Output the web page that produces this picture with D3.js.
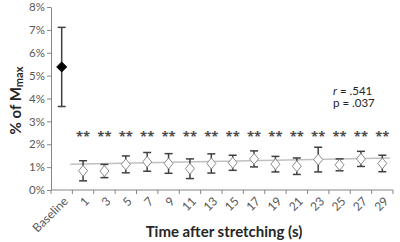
<!DOCTYPE html>
<html>
<head>
<meta charset="utf-8">
<script src="https://cdn.jsdelivr.net/npm/d3@7"></script>
<style>
  html, body { margin: 0; padding: 0; background: #fff; }
  #chart { width: 400px; height: 242px; }
  text { font-family: Lato, "Open Sans", sans-serif; }
</style>
</head>
<body>
<div id="chart"></div>
<script>
const categories = ["Baseline", "1", "3", "5", "7", "9", "11", "13", "15", "17", "19", "21", "23", "25", "27", "29"];
const means = [5.38, 0.84, 0.83, 1.12, 1.23, 1.16, 0.93, 1.16, 1.19, 1.36, 1.13, 1.04, 1.33, 1.10, 1.36, 1.16];
const errors = [1.73, 0.44, 0.29, 0.37, 0.41, 0.43, 0.43, 0.42, 0.33, 0.35, 0.34, 0.36, 0.54, 0.26, 0.33, 0.36];
const significant = [false, true, true, true, true, true, true, true, true, true, true, true, true, true, true, true];
const yTicks = [0, 1, 2, 3, 4, 5, 6, 7, 8];
// trendline ends (category position, value in %)
const trendPos = [0.9, 15.85];
const trendVal = [1.13, 1.40];
const statsText = [".541", ".037"];

(function() {
  const width = 400, height = 242;
  const margin = { top: 7, right: 7, bottom: 52, left: 51 };

  const svg = d3.select("#chart").append("svg")
    .attr("width", width)
    .attr("height", height);

  const x = d3.scaleBand()
    .domain(categories)
    .range([margin.left, width - margin.right])
    .padding(0);

  const y = d3.scaleLinear()
    .domain([0, 8])
    .range([height - margin.bottom, margin.top]);

  const xPos = p => x.range()[0] + p * x.step();
  const axisColor = "#868686";
  const labelColor = "#595959";

  // y axis
  const yAxis = svg.append("g")
    .attr("transform", `translate(${margin.left},0)`)
    .call(d3.axisLeft(y).tickValues(yTicks).tickSize(4).tickSizeOuter(0).tickFormat(d => d + "%"));
  yAxis.select(".domain").attr("stroke", axisColor);
  yAxis.selectAll(".tick line").attr("stroke", axisColor);
  yAxis.selectAll(".tick text")
    .attr("fill", labelColor)
    .style("font-size", "11.5px")
    .attr("x", -6);

  // x axis: ticks on category boundaries
  const xg = svg.append("g")
    .attr("transform", `translate(0,${y(0)})`);
  xg.append("line")
    .attr("x1", x.range()[0]).attr("x2", x.range()[1])
    .attr("stroke", axisColor);
  xg.selectAll(".bt")
    .data(d3.range(categories.length + 1))
    .enter().append("line")
    .attr("x1", d => xPos(d)).attr("x2", d => xPos(d))
    .attr("y1", 0).attr("y2", 4)
    .attr("stroke", axisColor);
  xg.selectAll(".cl")
    .data(categories)
    .enter().append("text")
    .attr("transform", d => `translate(${x(d) + x.bandwidth() / 2 + 4},${9}) rotate(-45)`)
    .attr("text-anchor", "end")
    .attr("dy", "0.35em")
    .attr("fill", labelColor)
    .style("font-size", "12px")
    .text(d => d);

  // trendline
  svg.append("line")
    .attr("x1", xPos(trendPos[0])).attr("y1", y(trendVal[0]))
    .attr("x2", xPos(trendPos[1])).attr("y2", y(trendVal[1]))
    .attr("stroke", "#c0c0c0")
    .attr("stroke-width", 1.5);

  const pts = categories.map((c, i) => ({ c, m: means[i], e: errors[i], sig: significant[i], i }));
  const cx = d => x(d.c) + x.bandwidth() / 2;

  // error bars
  const eb = svg.selectAll(".eb").data(pts).enter().append("g")
    .attr("stroke", "#404040")
    .attr("stroke-width", 1.5);
  eb.append("line")
    .attr("x1", cx).attr("x2", cx)
    .attr("y1", d => y(d.m + d.e)).attr("y2", d => y(d.m - d.e));
  eb.append("line")
    .attr("x1", d => cx(d) - 4).attr("x2", d => cx(d) + 4)
    .attr("y1", d => y(d.m + d.e)).attr("y2", d => y(d.m + d.e));
  eb.append("line")
    .attr("x1", d => cx(d) - 4).attr("x2", d => cx(d) + 4)
    .attr("y1", d => y(d.m - d.e)).attr("y2", d => y(d.m - d.e));

  // diamonds
  svg.selectAll(".pt").data(pts).enter().append("path")
    .attr("d", d => {
      const w = d.i === 0 ? 5 : 4.5, h = d.i === 0 ? 5 : 5.5;
      return `M0,${-h}L${w},0L0,${h}L${-w},0Z`;
    })
    .attr("transform", d => `translate(${cx(d)},${y(d.m)})`)
    .attr("fill", d => d.i === 0 ? "#000" : "#fff")
    .attr("stroke", d => d.i === 0 ? "#000" : "#8c8c8c")
    .attr("stroke-width", 1);

  // significance asterisks
  svg.selectAll(".sig").data(pts.filter(d => d.sig)).enter().append("text")
    .attr("x", cx)
    .attr("y", 141)
    .attr("text-anchor", "middle")
    .attr("fill", "#4a4a4a")
    .style("font-family", "'Open Sans', sans-serif")
    .style("font-size", "13px")
    .style("font-weight", "bold")
    .text("**");

  // stats text
  const st = svg.append("text")
    .attr("x", 333).attr("y", 95)
    .attr("fill", "#262626")
    .style("font-size", "11.5px");
  st.append("tspan").style("font-style", "italic").text("r");
  st.append("tspan").text(" = " + statsText[0]);
  svg.append("text")
    .attr("x", 333).attr("y", 107)
    .attr("fill", "#262626")
    .style("font-size", "11.5px")
    .text("p = " + statsText[1]);

  // axis titles
  const yt = svg.append("text")
    .attr("transform", `translate(21,${(y(0) + y(8)) / 2 + 2}) rotate(-90)`)
    .attr("text-anchor", "middle")
    .attr("fill", "#262626")
    .style("font-size", "15px")
    .style("font-weight", "bold");
  yt.append("tspan").text("% of M");
  yt.append("tspan").attr("dy", 2).style("font-size", "11px").text("max");

  svg.append("text")
    .attr("x", 224).attr("y", 237)
    .attr("text-anchor", "middle")
    .attr("fill", "#262626")
    .style("font-size", "15px")
    .style("font-weight", "bold")
    .text("Time after stretching (s)");
})();
</script>
</body>
</html>
